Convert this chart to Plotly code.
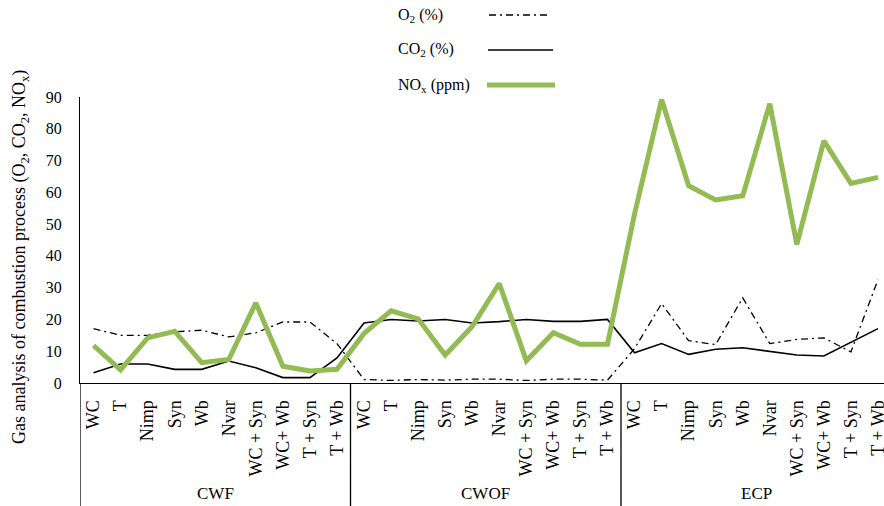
import plotly.graph_objects as go

groups = ["CWF", "CWOF", "ECP"]
treatments = ["WC", "T", "Nimp", "Syn", "Wb", "Nvar", "WC + Syn", "WC+ Wb", "T + Syn", "T + Wb"]

o2 = [17.1, 15.0, 15.0, 16.1, 16.6, 14.5, 15.8, 19.2, 19.2, 12.4,
      1.1, 0.8, 1.1, 0.9, 1.2, 1.2, 0.8, 1.2, 1.2, 0.9,
      10.8, 25.0, 13.3, 12.1, 26.8, 12.4, 13.7, 14.2, 9.8, 32.5]
co2 = [3.2, 6.0, 6.0, 4.3, 4.3, 6.9, 4.8, 1.7, 1.7, 7.9,
       18.9, 20.0, 19.5, 20.0, 18.9, 19.3, 20.0, 19.4, 19.4, 20.0,
       9.5, 12.4, 9.0, 10.6, 11.1, 9.9, 8.8, 8.5, 12.9, 17.1]
nox = [11.8, 4.1, 14.2, 16.3, 6.4, 7.4, 25.2, 5.3, 3.8, 4.3,
       15.6, 22.7, 20.2, 8.8, 17.8, 31.3, 7.0, 15.8, 12.2, 12.2,
       53.2, 89.2, 62.1, 57.6, 58.9, 87.9, 43.6, 76.2, 62.8, 64.7]

labels = [t for g in groups for t in treatments]
xs = list(range(len(labels)))

FONT = "Liberation Serif"
GREEN = "#92BB53"

fig = go.Figure()
fig.add_trace(go.Scatter(x=xs, y=o2, mode="lines", name="O2 (%)",
                         line=dict(color="black", width=1.3, dash="7px,4px,2px,4px")))
fig.add_trace(go.Scatter(x=xs, y=co2, mode="lines", name="CO2 (%)",
                         line=dict(color="black", width=1.6)))
fig.add_trace(go.Scatter(x=xs, y=nox, mode="lines", name="NOx (ppm)",
                         line=dict(color=GREEN, width=5)))

W, H = 884, 506
L, T, B = 80, 97, 123
pw = W - L
ph = H - T - B
spacing = 27.05
xmax = -0.5 + pw / spacing

def px(xp):
    return (xp - L) / pw

def py(yp):
    return (H - B - yp) / ph

shapes = []
annotations = []
# group separators
for k in range(len(groups)):
    xv = -0.5 + 10 * k
    shapes.append(dict(type="line", xref="x", yref="paper", x0=xv, x1=xv,
                       y0=0, y1=-0.45, line=dict(color="black", width=1.3)))
    annotations.append(dict(xref="x", yref="paper", x=4.5 + 10 * k, y=py(493),
                            text=groups[k], showarrow=False,
                            font=dict(family=FONT, size=17, color="black"),
                            xanchor="center", yanchor="middle"))

# custom legend (text left, line sample right)
leg = [("O<sub>2</sub> (%)", 15, dict(color="black", width=1.3, dash="7px,4px,2px,4px"), 489, 549),
       ("CO<sub>2</sub> (%)", 50, dict(color="black", width=1.6), 488, 553),
       ("NO<sub>x</sub> (ppm)", 85, dict(color=GREEN, width=5), 487, 555)]
for txt, yy, ln, x0, x1 in leg:
    annotations.append(dict(xref="paper", yref="paper", x=px(396), y=py(yy), text=txt,
                            showarrow=False, xanchor="left", yanchor="middle",
                            font=dict(family=FONT, size=16, color="black")))
    shapes.append(dict(type="line", xref="paper", yref="paper", x0=px(x0), x1=px(x1),
                       y0=py(yy), y1=py(yy), line=ln))

# y-axis title
annotations.append(dict(xref="paper", yref="paper", x=px(20), y=py(257),
                        text="Gas analysis of combustion process (O<sub>2</sub>, CO<sub>2</sub>, NO<sub>x</sub>)",
                        textangle=-90, showarrow=False, xanchor="center", yanchor="middle",
                        font=dict(family=FONT, size=18, color="black")))

fig.update_layout(
    width=W, height=H,
    margin=dict(l=L, r=0, t=T, b=B),
    paper_bgcolor="white", plot_bgcolor="white",
    showlegend=False,
    font=dict(family=FONT, color="black"),
    shapes=shapes, annotations=annotations,
    xaxis=dict(range=[-0.5, xmax], tickmode="array", tickvals=xs, ticktext=labels,
               tickangle=-90, tickfont=dict(family=FONT, size=18, color="black"),
               showline=True, linecolor="black", linewidth=1.3, showgrid=False,
               zeroline=False, ticks="", automargin=False, ticklabelstandoff=9,
               ticklabeloverflow="allow"),
    yaxis=dict(range=[0, 90], tickvals=list(range(0, 91, 10)),
               tickfont=dict(family=FONT, size=16, color="black"),
               showline=True, linecolor="black", linewidth=1.3, showgrid=False,
               zeroline=False, ticks="", ticklabelstandoff=14, automargin=False),
)

fig.write_html("out.html", config={"displayModeBar": False},
               post_script="document.body.style.margin='0';document.body.style.overflow='hidden';")
